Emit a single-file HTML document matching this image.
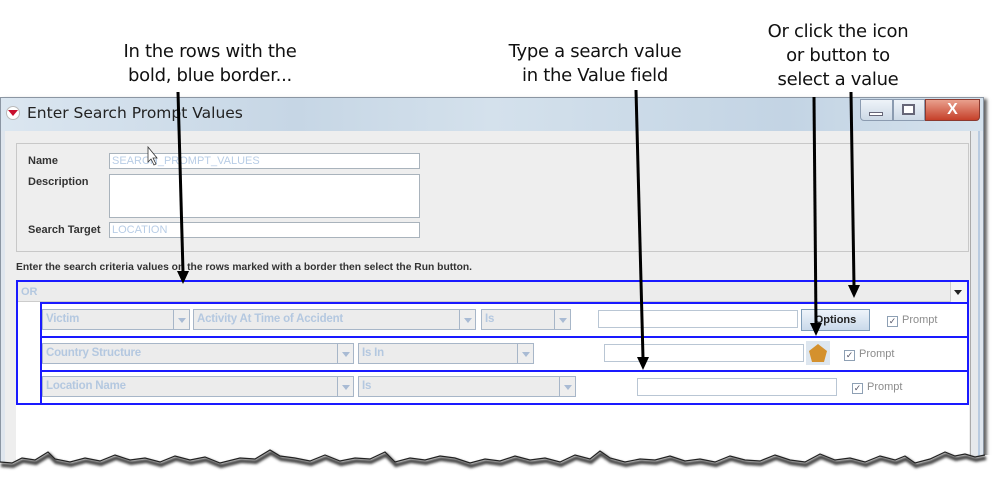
<!DOCTYPE html>
<html><head><meta charset="utf-8"><style>
*{margin:0;padding:0;box-sizing:border-box}
body{width:1000px;height:488px;background:#fff;position:relative;overflow:hidden;font-family:"Liberation Sans",Arial,sans-serif}
.a{position:absolute}
.ann{position:absolute;font-family:"DejaVu Sans",sans-serif;font-size:18px;line-height:24px;text-align:center;color:#111;letter-spacing:-0.3px}
.lbl{position:absolute;font-size:11px;font-weight:bold;color:#333}
.fld{position:absolute;background:#fff;border:1px solid #a9b3bc;font-size:11px;color:#b8cde6;padding-left:2px;line-height:14px}
.cb{position:absolute;background:#ececec;border:1px solid #a7b6c8;font-size:11.5px;color:#b4c8e0;padding:3px 3px;font-weight:bold;letter-spacing:-0.2px}
.cb i{position:absolute;right:0;top:0;bottom:0;width:16px;border-left:1px solid #a7b6c8;background:#eee}
.cb i:after{content:"";position:absolute;left:4px;top:8px;border:4px solid transparent;border-top:5px solid #a9bbd4}
.row{position:absolute;left:40px;width:929px;border:2px solid #1a1aff;background:#fff}
.val{position:absolute;background:#fff;border:1px solid #b9c6d4}
.pr{position:absolute;font-size:11px;color:#8c8c8c}
.pr b{display:inline-block;width:11px;height:11px;border:1px solid #8ea0b4;font-size:9px;line-height:9px;text-align:center;color:#556;margin-right:4px;vertical-align:-1px;font-weight:normal}
</style></head><body>
<div class="ann" style="left:80px;top:40px;width:260px">In the rows with the<br>bold, blue border...</div>
<div class="ann" style="left:465px;top:40px;width:260px">Type a search value<br>in the Value field</div>
<div class="ann" style="left:728px;top:20px;width:220px">Or click the icon<br>or button to<br>select a value</div>

<div class="a" style="left:0;top:97px;width:984px;height:380px;background:#dfe6ee;border:1px solid #8b96a3;box-shadow:3px 2px 3px #666"></div>
<div class="a" style="left:1px;top:98px;width:982px;height:33px;background:linear-gradient(90deg,#dbe6f0,#c6d6e5 30%,#d4e1ec 50%,#c3d4e4 80%,#d5e2ed)"></div>
<div class="a" style="left:6px;top:106px;width:14px;height:14px;border-radius:50%;background:#fff;border:1px solid #bbb"></div>
<div class="a" style="left:8px;top:110px;border:5px solid transparent;border-top:6px solid #c8102e"></div>
<div class="a" style="left:27px;top:104px;font-family:'DejaVu Sans',sans-serif;font-size:15.5px;color:#222">Enter Search Prompt Values</div>
<div class="a" style="left:860px;top:99px;width:33px;height:22px;background:linear-gradient(#eef3f8,#cdd9e6);border:1px solid #8b9bb0;border-radius:0 0 0 4px"></div>
<div class="a" style="left:869px;top:112px;width:14px;height:4px;background:#fff;border:1px solid #667"></div>
<div class="a" style="left:893px;top:99px;width:32px;height:22px;background:linear-gradient(#eef3f8,#cdd9e6);border:1px solid #8b9bb0"></div>
<div class="a" style="left:902px;top:104px;width:13px;height:11px;border:2px solid #667;background:#fff"></div>
<div class="a" style="left:925px;top:99px;width:55px;height:22px;background:linear-gradient(#e9a08e,#c5402a);border:1px solid #8b3a30;border-radius:0 0 4px 0;color:#fff;font-weight:bold;font-size:16px;text-align:center;line-height:20px">X</div>

<div class="a" style="left:5px;top:131px;width:965px;height:346px;background:#eeeeee"></div>
<div class="a" style="left:970px;top:131px;width:10px;height:346px;background:#e6e9ec;border-left:1px solid #aaa;border-right:2px solid #b9cbe0"></div>
<div class="a" style="left:16px;top:143px;width:953px;height:109px;border:1px solid #c8c8c8"></div>
<div class="lbl" style="left:28px;top:155px">Name</div>
<div class="fld" style="left:109px;top:153px;width:311px;height:16px">SEARCH_PROMPT_VALUES</div>
<div class="lbl" style="left:28px;top:176px">Description</div>
<div class="fld" style="left:109px;top:174px;width:311px;height:44px"></div>
<div class="lbl" style="left:28px;top:224px">Search Target</div>
<div class="fld" style="left:109px;top:222px;width:311px;height:16px">LOCATION</div>
<div class="lbl" style="left:16px;top:262px;font-size:10.3px">Enter the search criteria values on the rows marked with a border then select the Run button.</div>

<div class="a" style="left:16px;top:280px;width:953px;height:190px;background:#fff"></div>
<div class="a" style="left:16px;top:280px;width:953px;height:125px;border:2px solid #1a1aff;background:#fff"></div>
<div class="a" style="left:18px;top:282px;width:949px;height:20px;background:#ececec;border-bottom:1px solid #ccc;font-size:11px;color:#b4c8e0;font-weight:bold;padding:4px 3px">OR</div>
<div class="a" style="left:950px;top:282px;width:17px;height:20px;background:#f4f4f4;border-left:1px solid #ccc"></div>
<div class="a" style="left:954px;top:290px;border:4px solid transparent;border-top:5px solid #222"></div>

<div class="row" style="top:302px;height:36px"></div>
<div class="row" style="top:336px;height:36px"></div>
<div class="row" style="top:370px;height:35px"></div>

<div class="cb" style="left:42px;top:309px;width:148px;height:21px">Victim<i></i></div>
<div class="cb" style="left:193px;top:309px;width:283px;height:21px">Activity At Time of Accident<i></i></div>
<div class="cb" style="left:481px;top:309px;width:90px;height:21px">Is<i></i></div>
<div class="val" style="left:598px;top:310px;width:200px;height:18px"></div>
<div class="a" style="left:801px;top:309px;width:69px;height:22px;background:linear-gradient(#eef4fa,#c9d9ea);border:1px solid #7f9db9;font-size:11px;font-weight:bold;text-align:center;line-height:20px;color:#222">Options</div>
<div class="pr" style="left:887px;top:314px"><b>✓</b>Prompt</div>

<div class="cb" style="left:42px;top:343px;width:312px;height:21px">Country Structure<i></i></div>
<div class="cb" style="left:358px;top:343px;width:176px;height:21px">Is In<i></i></div>
<div class="val" style="left:604px;top:344px;width:200px;height:18px"></div>
<div class="a" style="left:806px;top:341px;width:24px;height:24px;background:#dde6ef"></div>
<svg class="a" style="left:806px;top:341px" width="24" height="24"><polygon points="12,3 21,10 18,21 6,21 3,10" fill="#d4912e"/></svg>
<div class="pr" style="left:844px;top:348px"><b>✓</b>Prompt</div>

<div class="cb" style="left:42px;top:376px;width:312px;height:21px">Location Name<i></i></div>
<div class="cb" style="left:358px;top:376px;width:218px;height:21px">Is<i></i></div>
<div class="val" style="left:637px;top:378px;width:200px;height:18px"></div>
<div class="pr" style="left:852px;top:381px"><b>✓</b>Prompt</div>

<svg class="a" style="left:0;top:0" width="1000" height="488">
<defs><filter id="s" x="-5%" y="-50%" width="110%" height="200%"><feGaussianBlur stdDeviation="1.3"/></filter>
<path id="e" d="M0,462 L12,463 L22,458 L35,460 L48,452 L55,459 L70,462 L85,458 L100,461 L115,455 L130,460 L145,458 L160,462 L175,456 L190,460 L205,457 L220,463 L240,458 L255,459 L270,450 L280,456 L295,458 L310,461 L325,455 L340,461 L355,458 L370,459 L385,452 L395,462 L410,458 L425,460 L440,456 L455,458 L470,463 L485,459 L500,461 L515,456 L530,460 L545,458 L560,462 L575,455 L590,459 L600,451 L610,458 L625,462 L640,459 L655,460 L670,456 L685,461 L700,459 L715,462 L730,456 L745,460 L760,461 L775,455 L790,460 L805,462 L820,454 L835,460 L850,458 L865,462 L880,456 L895,460 L905,456 L915,463 L930,459 L945,452 L955,456 L965,454 L975,457 L985,455"/></defs>
<path d="M0,462 L12,463 L22,458 L35,460 L48,452 L55,459 L70,462 L85,458 L100,461 L115,455 L130,460 L145,458 L160,462 L175,456 L190,460 L205,457 L220,463 L240,458 L255,459 L270,450 L280,456 L295,458 L310,461 L325,455 L340,461 L355,458 L370,459 L385,452 L395,462 L410,458 L425,460 L440,456 L455,458 L470,463 L485,459 L500,461 L515,456 L530,460 L545,458 L560,462 L575,455 L590,459 L600,451 L610,458 L625,462 L640,459 L655,460 L670,456 L685,461 L700,459 L715,462 L730,456 L745,460 L760,461 L775,455 L790,460 L805,462 L820,454 L835,460 L850,458 L865,462 L880,456 L895,460 L905,456 L915,463 L930,459 L945,452 L955,456 L965,454 L975,457 L985,455 L1000,455 L1000,488 L0,488 Z" fill="#fff"/>
<use href="#e" fill="none" stroke="#444" stroke-width="4" filter="url(#s)" transform="translate(1,3)"/>
<use href="#e" fill="none" stroke="#222" stroke-width="1.2"/>
<g stroke="#000" stroke-width="3" fill="#000">
<line x1="178" y1="92" x2="183" y2="272"/>
<polygon points="177,271 189,271 183,284" stroke="none"/>
<line x1="636" y1="90" x2="643" y2="358"/>
<polygon points="637,357 649,357 643,370" stroke="none"/>
<line x1="814" y1="97" x2="816" y2="324"/>
<polygon points="810,323 822,323 816,336" stroke="none"/>
<line x1="851" y1="92" x2="854" y2="286"/>
<polygon points="848,285 860,285 854,298" stroke="none"/>
</g>
<path d="M148,147 L148,162 L151,159 L154,165 L156,164 L153,158 L157,158 Z" fill="#fff" stroke="#333" stroke-width="0.8"/>
</svg>
</body></html>
